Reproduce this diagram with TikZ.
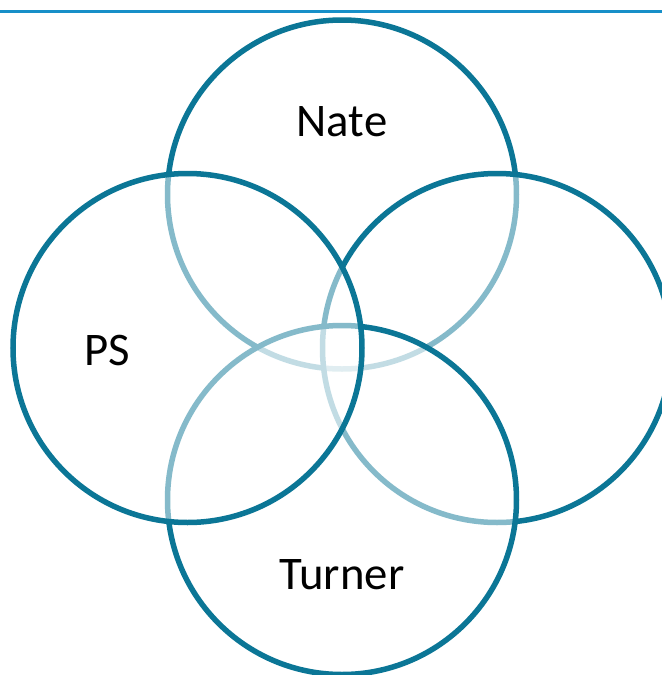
\documentclass[tikz,border=0pt]{standalone}
\usepackage{fontspec}
\setmainfont{Carlito}
\usepackage{xcolor}
\definecolor{ringblue}{HTML}{0B7696}
\definecolor{ruleblue}{HTML}{178FC8}
\tikzstyle{ring}=[circle,draw=ringblue,line width=0.055cm,fill=white,fill opacity=0.5,
  draw opacity=1,minimum size=3.49cm,inner sep=0pt]
\tikzstyle{ringtext}=[font=\fontsize{13.3}{16}\selectfont,text=black]

\begin{document}
\begin{tikzpicture}
  \useasboundingbox (0,0) rectangle (6.62,-6.75);
  \coordinate (ruleL) at (0,-0.115);
  \coordinate (ruleR) at (6.62,-0.115);
  \draw[ruleblue,line width=0.028cm] (ruleL) -- (ruleR);

  % rings, later ones wash out the earlier strokes
  \node[ring] (top)    at (3.42,-1.945) {};
  \node[ring] (right)  at (4.97,-3.48) {};
  \node[ring] (bottom) at (3.42,-5.00) {};
  \node[ring] (left)   at (1.875,-3.48) {};

  \node[ringtext] (nate)   at (3.42,-1.22) {Nate};
  \node[ringtext] (ps)     at (1.07,-3.50) {PS};
  \node[ringtext] (turner) at (3.42,-5.75) {Turner};
\end{tikzpicture}
\end{document}
